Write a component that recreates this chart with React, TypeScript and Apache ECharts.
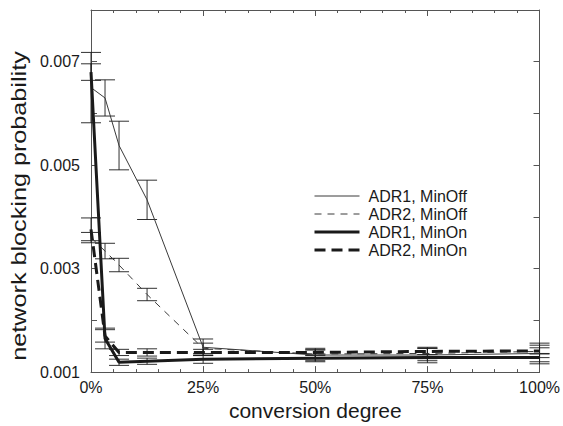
import React, { useEffect, useRef } from "react";
import * as echarts from "echarts";

// Conversion degree (fraction of converters)
const conversion = [0, 0.03125, 0.0625, 0.125, 0.25, 0.5, 0.75, 1];

// Network blocking probability, mean and half-width of the confidence interval
const adr1MinOff = [0.0065, 0.0063, 0.00538, 0.00433, 0.00148, 0.00133, 0.00133, 0.00136];
const adr1MinOffErr = [0.00068, 0.00035, 0.00047, 0.00038, 0.00016, 0.00013, 0.00015, 0.0002];
const adr2MinOff = [0.0036, 0.00334, 0.00307, 0.0025, 0.00146, 0.00135, 0.00136, 0.0014];
const adr2MinOffErr = [0.0001, 0.00015, 0.00013, 0.00012, 0.0001, 0.00008, 0.0001, 0.00012];
const adr1MinOn = [0.0068, 0.00165, 0.00119, 0.00121, 0.00125, 0.00127, 0.00128, 0.00128];
const adr1MinOnErr = [0.00016, 0.0002, 0.00006, 0.00006, 0.00008, 0.00005, 0.00006, 0.00008];
const adr2MinOn = [0.00376, 0.0017, 0.00138, 0.00138, 0.00138, 0.00138, 0.0014, 0.00141];
const adr2MinOnErr = [0.00022, 0.00012, 0.00006, 0.00007, 0.00006, 0.00005, 0.00006, 0.00006];

const seriesNames = ["ADR1, MinOff", "ADR2, MinOff", "ADR1, MinOn", "ADR2, MinOn"];
const yTicks = [0.001, 0.003, 0.005, 0.007];

const FONT = '"Liberation Sans", Arial, Helvetica, sans-serif';
const INK = "#1a1a1a";
const THIN = "#3a3a3a";
const FRAME = "#555";

const pairs = (ys: number[]) => conversion.map((x, i) => [x, ys[i]]);
const bars = (ys: number[], es: number[]) =>
  conversion.map((x, i) => [x, ys[i] - es[i], ys[i] + es[i]]);

export default function App() {
  const ref = useRef<HTMLDivElement>(null);

  useEffect(() => {
    if (!ref.current) return;
    const chart = echarts.init(ref.current, undefined, { renderer: "svg" });

    const errorData = [
      ...bars(adr1MinOff, adr1MinOffErr),
      ...bars(adr2MinOff, adr2MinOffErr),
      ...bars(adr1MinOn, adr1MinOnErr),
      ...bars(adr2MinOn, adr2MinOnErr),
    ];

    const capHalf = 10;

    const xCommon = {
      type: "value" as const,
      min: 0,
      max: 1,
      interval: 0.25,
      axisLine: { show: true, onZero: false, lineStyle: { color: FRAME, width: 1 } },
      axisTick: { show: true, inside: true, length: 6, lineStyle: { color: FRAME } },
      minorTick: { show: true, splitNumber: 5, length: 3, lineStyle: { color: FRAME } },
      splitLine: { show: false },
    };
    const yCommon = {
      type: "value" as const,
      min: 0.001,
      max: 0.008,
      interval: 0.001,
      axisLine: { show: true, onZero: false, lineStyle: { color: FRAME, width: 1 } },
      axisTick: { show: true, inside: true, length: 6, lineStyle: { color: FRAME } },
      splitLine: { show: false },
    };

    chart.setOption({
      animation: false,
      backgroundColor: "#fff",
      textStyle: { fontFamily: FONT },
      grid: { left: 91, right: 23, top: 10, bottom: 48, containLabel: false },
      xAxis: [
        {
          ...xCommon,
          position: "bottom",
          name: "conversion degree",
          nameLocation: "middle",
          nameGap: 23,
          nameTextStyle: { fontSize: 21, color: INK, fontFamily: FONT },
          axisLabel: {
            show: true,
            margin: 7,
            fontSize: 16,
            color: INK,
            fontFamily: FONT,
            formatter: (v: number) => `${Math.round(v * 100)}%`,
          },
        },
        { ...xCommon, position: "top", axisLabel: { show: false } },
      ],
      yAxis: [
        {
          ...yCommon,
          position: "left",
          axisLabel: {
            show: true,
            margin: 11,
            fontSize: 16,
            color: INK,
            fontFamily: FONT,
            showMaxLabel: false,
            formatter: (v: number) => {
              const hit = yTicks.find((t) => Math.abs(t - v) < 1e-9);
              return hit !== undefined ? hit.toFixed(3) : "";
            },
          },
        },
        { ...yCommon, position: "right", axisLabel: { show: false } },
      ],
      legend: {
        orient: "vertical",
        left: 313,
        top: 188,
        padding: 0,
        itemWidth: 45,
        itemHeight: 14,
        itemGap: 2,
        itemStyle: { opacity: 0 },
        lineStyle: { width: "inherit" },
        data: seriesNames,
        textStyle: { fontSize: 16, color: INK, fontFamily: FONT, padding: [0, 0, 0, 4] },
      },
      graphic: [
        {
          type: "text",
          x: 19,
          y: 206,
          rotation: Math.PI / 2,
          scaleX: 1.2,
          style: {
            text: "network blocking probability",
            font: `21px ${FONT}`,
            fill: INK,
            textAlign: "center",
            textVerticalAlign: "middle",
          },
        },
      ],
      series: [
        {
          type: "custom",
          name: "errors",
          z: 1,
          clip: false,
          renderItem: (_params: any, api: any) => {
            const x = api.value(0);
            const lo = api.coord([x, api.value(1)]);
            const hi = api.coord([x, api.value(2)]);
            const style = { stroke: INK, lineWidth: 0.9 };
            return {
              type: "group",
              children: [
                { type: "line", shape: { x1: lo[0], y1: lo[1], x2: hi[0], y2: hi[1] }, style },
                { type: "line", shape: { x1: lo[0] - capHalf, y1: lo[1], x2: lo[0] + capHalf, y2: lo[1] }, style },
                { type: "line", shape: { x1: hi[0] - capHalf, y1: hi[1], x2: hi[0] + capHalf, y2: hi[1] }, style },
              ],
            };
          },
          data: errorData,
        },
        {
          type: "line",
          name: seriesNames[0],
          data: pairs(adr1MinOff),
          symbol: "none",
          z: 3,
          color: THIN,
          lineStyle: { color: THIN, width: 1, type: "solid" },
        },
        {
          type: "line",
          name: seriesNames[1],
          data: pairs(adr2MinOff),
          symbol: "none",
          z: 3,
          color: THIN,
          lineStyle: { color: THIN, width: 1, type: [7, 6] },
        },
        {
          type: "line",
          name: seriesNames[2],
          data: pairs(adr1MinOn),
          symbol: "none",
          z: 4,
          color: INK,
          lineStyle: { color: INK, width: 3, type: "solid" },
        },
        {
          type: "line",
          name: seriesNames[3],
          data: pairs(adr2MinOn),
          symbol: "none",
          z: 4,
          color: INK,
          lineStyle: { color: INK, width: 3, type: [11, 6] },
        },
      ],
    });

    return () => chart.dispose();
  }, []);

  return <div ref={ref} style={{ width: 563, height: 426, position: "absolute", left: 0, top: 0 }} />;
}
